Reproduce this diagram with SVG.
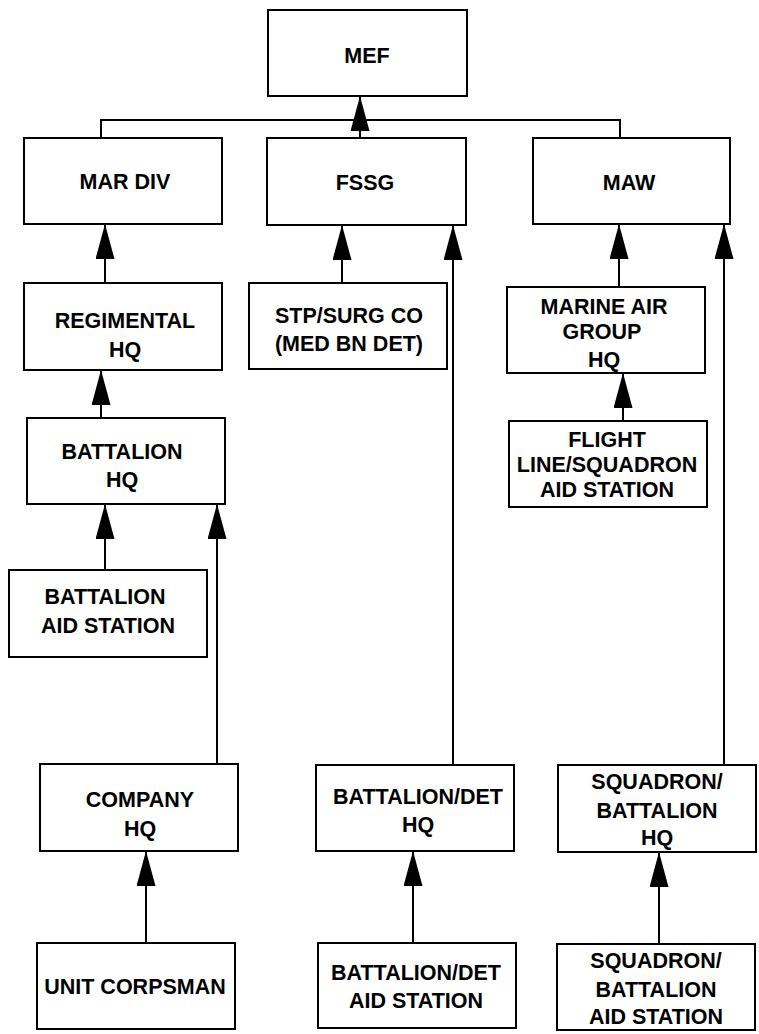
<svg xmlns="http://www.w3.org/2000/svg" width="759" height="1034" viewBox="0 0 759 1034">
<style>
.box{fill:#fff;stroke:#000;stroke-width:2}
.lbl{font-family:"Liberation Sans",Arial,sans-serif;font-weight:bold;font-size:21.5px;fill:#000;text-anchor:middle}
.con{fill:none;stroke:#000;stroke-width:2}
</style>
<defs>
<marker id="arr" viewBox="0 0 35 19" refX="35" refY="9.5" markerWidth="35" markerHeight="19" markerUnits="userSpaceOnUse" orient="auto">
<path d="M0,0 L35,9.5 L0,19 Z" fill="#000"/>
</marker>
</defs>
<rect width="759" height="1034" fill="#fff"/>
<g id="connectors">
<polyline class="con" points="101,138 101,120 620,120 620,138"/>
<line class="con" x1="360" y1="138" x2="360" y2="96" marker-end="url(#arr)"/>
<line class="con" x1="105" y1="283" x2="105" y2="224" marker-end="url(#arr)"/>
<line class="con" x1="101" y1="418" x2="101" y2="370" marker-end="url(#arr)"/>
<line class="con" x1="105" y1="570" x2="105" y2="504" marker-end="url(#arr)"/>
<line class="con" x1="217" y1="764" x2="217" y2="504" marker-end="url(#arr)"/>
<line class="con" x1="146" y1="943" x2="146" y2="851" marker-end="url(#arr)"/>
<line class="con" x1="342" y1="283" x2="342" y2="225" marker-end="url(#arr)"/>
<line class="con" x1="453" y1="765" x2="453" y2="225" marker-end="url(#arr)"/>
<line class="con" x1="413" y1="943" x2="413" y2="851" marker-end="url(#arr)"/>
<line class="con" x1="619" y1="287" x2="619" y2="224" marker-end="url(#arr)"/>
<line class="con" x1="623" y1="421" x2="623" y2="373" marker-end="url(#arr)"/>
<line class="con" x1="724" y1="765" x2="724" y2="224" marker-end="url(#arr)"/>
<line class="con" x1="659" y1="944" x2="659" y2="852" marker-end="url(#arr)"/>
</g>
<g id="mef"><rect class="box" x="268" y="10" width="199" height="86"/><text class="lbl" x="367" y="63">MEF</text></g>
<g id="mardiv"><rect class="box" x="24" y="138" width="198" height="86"/><text class="lbl" x="125" y="189">MAR DIV</text></g>
<g id="fssg"><rect class="box" x="267" y="138" width="199" height="87"/><text class="lbl" x="365" y="190">FSSG</text></g>
<g id="maw"><rect class="box" x="533" y="138" width="197" height="86"/><text class="lbl" x="629" y="190">MAW</text></g>
<g id="regimental"><rect class="box" x="24" y="283" width="198" height="87"/><text class="lbl" x="125" y="328">REGIMENTAL</text><text class="lbl" x="125" y="357">HQ</text></g>
<g id="battalion-hq"><rect class="box" x="27" y="418" width="198" height="86"/><text class="lbl" x="122" y="459">BATTALION</text><text class="lbl" x="122" y="487">HQ</text></g>
<g id="battalion-aid"><rect class="box" x="9" y="570" width="198" height="87"/><text class="lbl" x="105" y="604">BATTALION</text><text class="lbl" x="108" y="633">AID STATION</text></g>
<g id="company-hq"><rect class="box" x="40" y="764" width="198" height="87"/><text class="lbl" x="140" y="807">COMPANY</text><text class="lbl" x="140" y="836">HQ</text></g>
<g id="unit-corpsman"><rect class="box" x="37" y="943" width="198" height="86"/><text class="lbl" x="135" y="994">UNIT CORPSMAN</text></g>
<g id="stp"><rect class="box" x="249" y="283" width="198" height="86"/><text class="lbl" x="349" y="323">STP/SURG CO</text><text class="lbl" x="349" y="351">(MED BN DET)</text></g>
<g id="bndet-hq"><rect class="box" x="316" y="765" width="198" height="86"/><text class="lbl" x="418" y="804">BATTALION/DET</text><text class="lbl" x="418" y="832">HQ</text></g>
<g id="bndet-aid"><rect class="box" x="318" y="943" width="198" height="85"/><text class="lbl" x="416" y="980">BATTALION/DET</text><text class="lbl" x="416" y="1008">AID STATION</text></g>
<g id="mag-hq"><rect class="box" x="507" y="287" width="198" height="86"/><text class="lbl" x="604" y="314">MARINE AIR</text><text class="lbl" x="602" y="339">GROUP</text><text class="lbl" x="604" y="367">HQ</text></g>
<g id="flight-line"><rect class="box" x="509" y="421" width="198" height="86"/><text class="lbl" x="607" y="447">FLIGHT</text><text class="lbl" x="607" y="472">LINE/SQUADRON</text><text class="lbl" x="607" y="497">AID STATION</text></g>
<g id="sq-hq"><rect class="box" x="558" y="765" width="198" height="87"/><text class="lbl" x="657" y="789">SQUADRON/</text><text class="lbl" x="657" y="818">BATTALION</text><text class="lbl" x="657" y="845">HQ</text></g>
<g id="sq-aid"><rect class="box" x="557" y="944" width="198" height="86"/><text class="lbl" x="656" y="968">SQUADRON/</text><text class="lbl" x="656" y="997">BATTALION</text><text class="lbl" x="656" y="1024">AID STATION</text></g>
</svg>
